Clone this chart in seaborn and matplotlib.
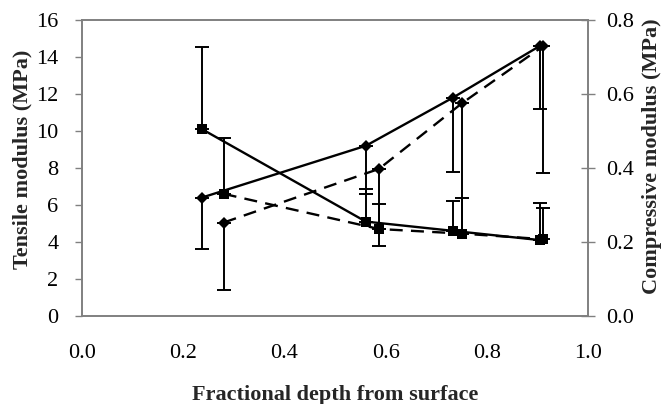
import matplotlib
matplotlib.use("Agg")
from matplotlib import pyplot as plt
import pandas as pd
import seaborn as sns

# tensile series (left axis, solid lines)
tens_depth_d = [0.237, 0.561, 0.733, 0.905]
tens_diamond = [6.4, 9.2, 11.8, 14.6]
tens_diamond_err = [2.8, 2.6, 4.0, 3.4]      # minus only
tens_depth_s = [0.237, 0.561, 0.733, 0.905]
tens_square = [10.1, 5.1, 4.6, 4.1]
tens_square_err = [4.45, 1.75, 1.6, 2.0]     # plus only

# compressive series (right axis, dashed lines)
comp_depth_d = [0.28, 0.587, 0.751, 0.912]
comp_diamond = [0.2525, 0.3975, 0.575, 0.73]
comp_diamond_err = [0.1825, 0.2075, 0.35, 0.3425]   # minus only
comp_depth_s = [0.28, 0.587, 0.751, 0.912]
comp_square = [0.33, 0.235, 0.2225, 0.2075]
comp_square_err = [0.15, 0.0675, 0.0975, 0.085]     # plus only

sns.set_style("white")
plt.rcParams['font.family'] = ['Liberation Serif', 'DejaVu Serif']

fig = plt.figure(figsize=(6.64, 4.04), dpi=100)
ax = fig.add_axes([0.1235, 0.218, 0.762, 0.7325])
ax2 = ax.twinx()

zero = [0, 0, 0, 0]
ekw = dict(fmt='none', ecolor='black', elinewidth=1.4, capsize=5, capthick=1.4)
ax.errorbar(tens_depth_d, tens_diamond, yerr=[tens_diamond_err, zero], **ekw)
ax.errorbar(tens_depth_s, tens_square, yerr=[zero, tens_square_err], **ekw)
ax2.errorbar(comp_depth_d, comp_diamond, yerr=[comp_diamond_err, zero], **ekw)
ax2.errorbar(comp_depth_s, comp_square, yerr=[zero, comp_square_err], **ekw)

sns.lineplot(x=tens_depth_d, y=tens_diamond, ax=ax, color='black', lw=1.7,
             marker='D', markersize=6, markeredgewidth=0)
sns.lineplot(x=tens_depth_s, y=tens_square, ax=ax, color='black', lw=1.7,
             marker='s', markersize=7.5, markeredgewidth=0)
sns.lineplot(x=comp_depth_d, y=comp_diamond, ax=ax2, color='black', lw=1.7,
             marker='D', markersize=6, markeredgewidth=0)
sns.lineplot(x=comp_depth_s, y=comp_square, ax=ax2, color='black', lw=1.7,
             marker='s', markersize=7.5, markeredgewidth=0)
for l in ax2.get_lines()[-2:]:
    l.set_dashes((5.5, 3.5))

ax.set_xlim(0, 1)
ax.set_ylim(0, 16)
ax2.set_ylim(0, 0.8)
ax.set_xticks([0, 0.2, 0.4, 0.6, 0.8, 1.0])
ax.set_xticklabels(['0.0', '0.2', '0.4', '0.6', '0.8', '1.0'])
ax.set_yticks(range(0, 17, 2))
ax2.set_yticks([0, 0.2, 0.4, 0.6, 0.8])
ax2.set_yticklabels(['0.0', '0.2', '0.4', '0.6', '0.8'])

for a in (ax, ax2):
    for s in a.spines.values():
        s.set_color('#808080')
        s.set_linewidth(1.2)
ax.tick_params(axis='both', labelsize=16, colors='#808080', labelcolor='black',
               length=5, width=1, direction='out')
ax.tick_params(axis='x', pad=15)
ax.tick_params(axis='y', pad=12)
ax2.tick_params(axis='y', labelsize=16, colors='#808080', labelcolor='black',
                length=10, width=1, direction='inout', pad=8)

ax.set_xlabel('Fractional depth from surface', fontsize=16, fontweight='bold')
ax.xaxis.set_label_coords(0.5, -0.235)
ax.set_ylabel('Tensile modulus (MPa)', fontsize=16, fontweight='bold')
ax.yaxis.set_label_coords(-0.097, 0.53)
ax2.set_ylabel('Compressive modulus (MPa)', fontsize=16, fontweight='bold',
               rotation=90)
ax2.yaxis.set_label_coords(1.106, 0.54)

fig.savefig('out.png', dpi=100)
